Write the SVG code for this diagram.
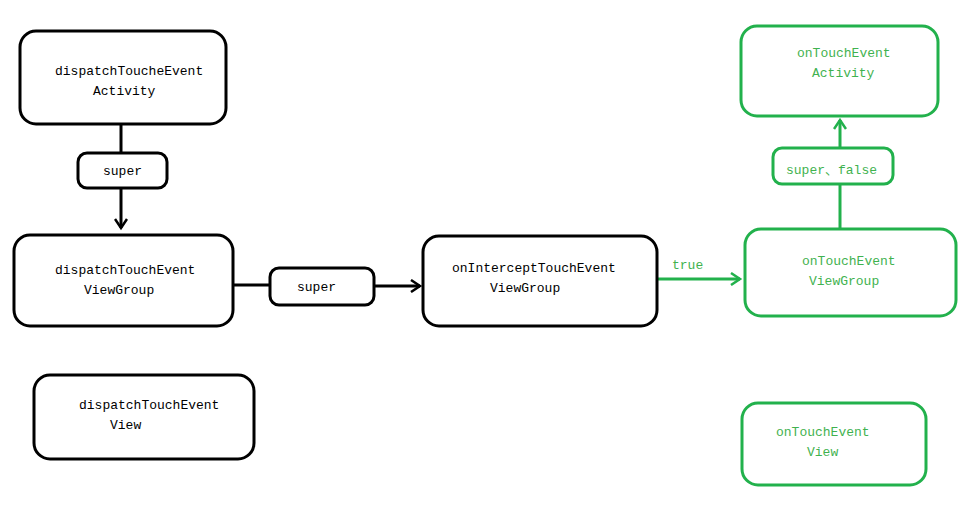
<svg xmlns="http://www.w3.org/2000/svg" width="973" height="509" viewBox="0 0 973 509">
<style>
.bk{fill:#fff;stroke:#000;stroke-width:3}
.gn{fill:#fff;stroke:#22b14c;stroke-width:3}
.t{font-family:"Liberation Mono","DejaVu Sans Mono",monospace;font-size:13px;fill:#000}
.tg{font-family:"Liberation Mono","DejaVu Sans Mono","Noto Sans CJK SC",monospace;font-size:13px;fill:#3fb24f}
.lk{stroke:#000;stroke-width:3;fill:none}
.lg{stroke:#22b14c;stroke-width:3;fill:none}
</style>
<defs>
<marker id="ak" markerWidth="14" markerHeight="14" refX="11" refY="7" orient="auto" markerUnits="userSpaceOnUse">
<path d="M2,1 L11,7 L2,13" fill="none" stroke="#000" stroke-width="2.5"/>
</marker>
<marker id="ag" markerWidth="14" markerHeight="14" refX="11" refY="7" orient="auto" markerUnits="userSpaceOnUse">
<path d="M2,1 L11,7 L2,13" fill="none" stroke="#22b14c" stroke-width="2.5"/>
</marker>
</defs>
<g id="connectors">
<line class="lk" x1="121" y1="124" x2="121" y2="154"/>
<line class="lk" x1="121" y1="188" x2="121" y2="228" marker-end="url(#ak)"/>
<line class="lk" x1="233" y1="285" x2="271" y2="285"/>
<line class="lk" x1="374" y1="286" x2="420" y2="286" marker-end="url(#ak)"/>
<line class="lg" x1="657" y1="279" x2="740" y2="279" marker-end="url(#ag)"/>
<line class="lg" x1="840" y1="229" x2="840" y2="185"/>
<line class="lg" x1="840" y1="147" x2="840" y2="120" marker-end="url(#ag)"/>
<g id="label-super1"><rect class="bk" x="78" y="153" width="89" height="35" rx="9"/><text class="t" x="103" y="175">super</text></g>
<g id="label-super2"><rect class="bk" x="270" y="268" width="104" height="37" rx="9"/><text class="t" x="297" y="291">super</text></g>
<text id="label-true" class="tg" x="672" y="269">true</text>
<g id="label-superfalse"><rect class="gn" x="773" y="148" width="120" height="36" rx="9"/><text class="tg" x="786" y="174">super、false</text></g>
</g>
<g id="dispatch-activity"><rect class="bk" x="20" y="31" width="206" height="93" rx="16"/><text class="t" x="55" y="75">dispatchToucheEvent</text><text class="t" x="93" y="95">Activity</text></g>
<g id="dispatch-viewgroup"><rect class="bk" x="14" y="235" width="219" height="91" rx="16"/><text class="t" x="55" y="274">dispatchTouchEvent</text><text class="t" x="84" y="294">ViewGroup</text></g>
<g id="intercept-viewgroup"><rect class="bk" x="423" y="236" width="234" height="90" rx="16"/><text class="t" x="452" y="272">onInterceptTouchEvent</text><text class="t" x="490" y="292">ViewGroup</text></g>
<g id="dispatch-view"><rect class="bk" x="34" y="375" width="220" height="84" rx="16"/><text class="t" x="79" y="409">dispatchTouchEvent</text><text class="t" x="110" y="429">View</text></g>
<g id="ontouch-viewgroup"><rect class="gn" x="745" y="229" width="211" height="87" rx="16"/><text class="tg" x="802" y="265">onTouchEvent</text><text class="tg" x="809" y="285">ViewGroup</text></g>
<g id="ontouch-activity"><rect class="gn" x="741" y="26" width="197" height="90" rx="16"/><text class="tg" x="797" y="57">onTouchEvent</text><text class="tg" x="812" y="77">Activity</text></g>
<g id="ontouch-view"><rect class="gn" x="742" y="403" width="184" height="82" rx="16"/><text class="tg" x="776" y="436">onTouchEvent</text><text class="tg" x="807" y="456">View</text></g>
</svg>
